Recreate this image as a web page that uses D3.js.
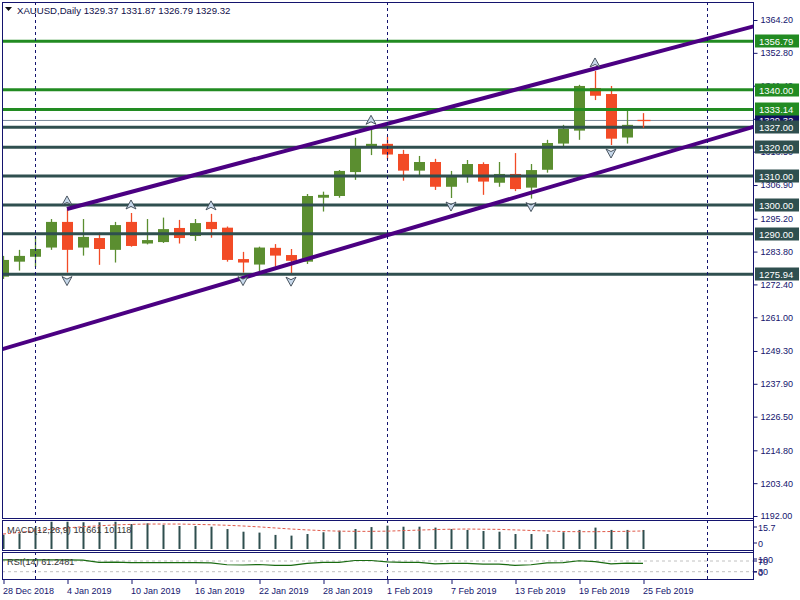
<!DOCTYPE html>
<html><head><meta charset="utf-8">
<script src="https://cdn.jsdelivr.net/npm/d3@7"></script>
<style>
body{margin:0;background:#fff}
svg{display:block}
text{font-family:"Liberation Sans",Arial,sans-serif}
</style>
</head><body>
<svg id="c" width="800" height="600"></svg>
<script>
// ---------------- DATA ----------------
const symbol = "XAUUSD", timeframe = "Daily";
const dates = ["28 Dec 2018","31 Dec 2018","2 Jan 2019","3 Jan 2019","4 Jan 2019","7 Jan 2019","8 Jan 2019","9 Jan 2019","10 Jan 2019","11 Jan 2019","14 Jan 2019","15 Jan 2019","16 Jan 2019","17 Jan 2019","18 Jan 2019","21 Jan 2019","22 Jan 2019","23 Jan 2019","24 Jan 2019","25 Jan 2019","28 Jan 2019","29 Jan 2019","30 Jan 2019","31 Jan 2019","1 Feb 2019","4 Feb 2019","5 Feb 2019","6 Feb 2019","7 Feb 2019","8 Feb 2019","11 Feb 2019","12 Feb 2019","13 Feb 2019","14 Feb 2019","15 Feb 2019","18 Feb 2019","19 Feb 2019","20 Feb 2019","21 Feb 2019","22 Feb 2019","25 Feb 2019"];
const open  = [1275.1,1280.3,1282.0,1285.2,1294.1,1285.2,1288.5,1284.4,1294.1,1286.6,1287.1,1292.0,1289.2,1294.1,1292.1,1281.2,1279.3,1285.1,1282.6,1280.3,1302.5,1303.1,1311.4,1320.2,1321.2,1317.7,1311.9,1314.9,1306.3,1310.1,1314.2,1307.7,1310.75,1306.0,1312.2,1321.3,1325.8,1340.6,1338.5,1323.4,1329.37];
const high  = [1282.3,1284.4,1289.0,1295.1,1298.6,1295.1,1290.4,1294.1,1297.2,1295.1,1295.6,1294.8,1295.1,1296.9,1292.5,1283.7,1285.5,1286.4,1284.7,1303.8,1304.6,1312.1,1323.3,1326.6,1323.7,1319.1,1317.0,1316.0,1311.8,1315.6,1314.8,1314.9,1318.0,1314.2,1322.6,1327.8,1341.7,1346.5,1341.3,1332.7,1331.87];
const low   = [1274.3,1277.2,1278.4,1284.4,1276.5,1282.4,1279.2,1280.0,1285.5,1286.3,1286.8,1286.6,1287.5,1288.6,1280.3,1276.5,1276.8,1278.6,1276.3,1279.5,1297.7,1302.5,1308.7,1317.3,1315.9,1308.4,1310.4,1305.2,1302.4,1307.7,1303.5,1306.3,1304.8,1302.2,1311.2,1320.2,1322.6,1336.4,1320.8,1321.3,1326.79];
const close = [1280.9,1282.3,1284.7,1294.1,1284.4,1288.9,1284.7,1293.0,1285.75,1287.8,1291.6,1288.5,1293.7,1291.6,1280.9,1280.0,1285.2,1282.4,1280.6,1303.1,1303.5,1311.8,1319.8,1321.2,1317.5,1311.9,1314.9,1306.3,1310.1,1314.2,1308.1,1310.75,1305.5,1312.1,1321.5,1326.4,1341.3,1337.9,1323.0,1327.8,1329.32];

const macdMain   = [8.0,8.8,12.0,15.3,15.3,15.0,15.0,15.3,14.0,14.4,13.5,12.9,12.9,12.5,11.2,9.7,9.2,7.9,7.5,8.4,9.4,10.3,11.2,12.3,13.1,12.5,12.5,12.0,11.2,10.7,10.1,9.7,8.4,8.4,8.4,9.4,10.7,12.0,10.7,10.7,10.661];
const macdSignal = [8.4,9.3,10.2,11.0,11.8,12.5,13.0,13.5,13.8,14.0,14.0,14.0,13.8,13.6,13.3,12.9,12.4,11.8,11.2,10.7,10.3,10.0,9.9,9.9,10.0,10.3,10.6,10.9,11.1,11.2,11.1,11.0,10.7,10.4,10.1,9.8,9.7,9.7,9.8,9.9,10.118];
const rsi = [74,74,74,74,74,73,65,66,64,64,64,64,64,63,56,55,57,54,54,61,65,65,72,72,67,65,65,59,61,61,58,58,54,56,63,64,71,68,59,62,61.2481];

const greenLevels = [1356.79, 1340.00, 1333.14];
const slateLevels = [1327.00, 1320.00, 1310.00, 1300.00, 1290.00, 1275.94];
const currentPrice = 1329.32;

// trend lines: [barIndex, price] anchor pairs
const upperTrend = [[4, 1298.6], [40, 1351.8]];
const lowerTrend = [[0, 1250.0], [40, 1315.75]];

const fractalUp = [4, 8, 13, 23, 37];
const fractalDown = [4, 15, 18, 28, 33, 38];

const priceTicks = [1364.20,1352.80,1341.40,1329.90,1318.50,1306.90,1295.20,1283.80,1272.40,1261.00,1249.30,1237.90,1226.50,1214.80,1203.40,1192.00];
const macdTicks = [15.7, 0];
const rsiTicks = [100, 70, 30, 0];
const rsiLevels = [70, 30];
const dateTickIdx = [0,4,8,12,16,20,24,28,32,36,40];
const periodSeparators = [2, 24, 44]; // first bar of Jan, Feb, Mar

// ---------------- LAYOUT ----------------
const svg = d3.select("#c");
const L = 2, R = 753;
const main = {top: 2, bottom: 518};
const macdP = {top: 520, bottom: 550};
const rsiP = {top: 552, bottom: 579};
const navy = "#14146e";
const bull = "#5b8e30", bear = "#f24b26";
const slate = "#2f4f4f", forest = "#228b22", indigo = "#4b0082";

const x = d3.scaleLinear().domain([0, 40]).range([3, 643]);
const y = d3.scaleLinear().domain([1192, 1364.2]).range([516, 20]);
const ym = d3.scaleLinear().domain([0, 15.7]).range([549, 521]);
const yr = d3.scaleLinear().domain([0, 100]).range([579.7, 553]);

svg.append("rect").attr("width",800).attr("height",600).attr("fill","#fff");

const defs = svg.append("defs");
defs.append("clipPath").attr("id","clipMain").append("rect").attr("x",L).attr("y",main.top).attr("width",R-L).attr("height",main.bottom-main.top);
defs.append("clipPath").attr("id","clipMacd").append("rect").attr("x",L).attr("y",macdP.top).attr("width",R-L).attr("height",macdP.bottom-macdP.top);
defs.append("clipPath").attr("id","clipRsi").append("rect").attr("x",L).attr("y",rsiP.top).attr("width",R-L).attr("height",rsiP.bottom-rsiP.top);

const gMain = svg.append("g").attr("clip-path","url(#clipMain)");

// period separators (all panels)
periodSeparators.forEach(i => {
  [[main.top, main.bottom],[macdP.top, macdP.bottom],[rsiP.top, rsiP.bottom]].forEach(([a,b]) => {
    svg.append("line").attr("x1",x(i)+0.5).attr("x2",x(i)+0.5).attr("y1",a).attr("y2",b)
      .attr("stroke",navy).attr("stroke-dasharray","3,3").attr("stroke-width",1);
  });
});

// current price line
gMain.append("line").attr("x1",L).attr("x2",R).attr("y1",y(currentPrice)).attr("y2",y(currentPrice)).attr("stroke","#7a8a9a").attr("stroke-width",1);

// candles
const candles = gMain.append("g");
const lastIdx = dates.length - 1;
d3.range(lastIdx).forEach(i => {
  const up = close[i] >= open[i];
  const col = up ? bull : bear;
  const cx = Math.round(x(i)) + 0.5;
  candles.append("line").attr("x1",cx).attr("x2",cx).attr("y1",y(high[i])).attr("y2",y(low[i])).attr("stroke",col).attr("stroke-width",1.3);
  const top = y(Math.max(open[i],close[i])), bot = y(Math.min(open[i],close[i]));
  candles.append("rect").attr("x",cx-5.5).attr("width",11).attr("y",top).attr("height",Math.max(2,bot-top)).attr("fill",col);
});

// horizontal levels
greenLevels.forEach(v => gMain.append("line").attr("x1",L).attr("x2",R).attr("y1",y(v)).attr("y2",y(v)).attr("stroke",forest).attr("stroke-width",3));
slateLevels.forEach(v => gMain.append("line").attr("x1",L).attr("x2",R).attr("y1",y(v)).attr("y2",y(v)).attr("stroke",slate).attr("stroke-width",3));

// current (forming) bar: near-doji cross
{
  const i = lastIdx, cx = Math.round(x(i)) + 0.5, cy = Math.round(y(close[i])) + 0.5;
  gMain.append("line").attr("x1",cx).attr("x2",cx).attr("y1",y(high[i])).attr("y2",y(low[i])).attr("stroke",bear).attr("stroke-width",1.3);
  gMain.append("line").attr("x1",cx-6).attr("x2",cx+7).attr("y1",cy).attr("y2",cy).attr("stroke",bear).attr("stroke-width",1.3);
}

// trend lines
function trend(anchors, extendLeft) {
  const [[i0,p0],[i1,p1]] = anchors;
  const slope = (p1-p0)/(i1-i0);
  const iStart = extendLeft ? -5 : i0;
  const iEnd = 60;
  gMain.append("line")
    .attr("x1",x(iStart)).attr("y1",y(p0 + slope*(iStart-i0)))
    .attr("x2",x(iEnd)).attr("y2",y(p0 + slope*(iEnd-i0)))
    .attr("stroke",indigo).attr("stroke-width",4);
}
trend(upperTrend, false);
trend(lowerTrend, true);

// fractals
const frUp = "M0,-5 L5,4 L0,1.5 L-5,4 Z";
fractalUp.forEach(i => {
  gMain.append("path").attr("d",frUp).attr("transform",`translate(${x(i)},${y(high[i])-8})`)
    .attr("fill","#c7d8ea").attr("stroke","#3a4550").attr("stroke-width",0.9);
});
fractalDown.forEach(i => {
  gMain.append("path").attr("d",frUp).attr("transform",`translate(${x(i)},${y(low[i])+8}) scale(1,-1)`)
    .attr("fill","#c7d8ea").attr("stroke","#3a4550").attr("stroke-width",0.9);
});

// MACD panel
const gM = svg.append("g").attr("clip-path","url(#clipMacd)");
macdMain.forEach((v,i) => {
  gM.append("rect").attr("x",Math.round(x(i))-0.5).attr("width",2).attr("y",ym(v)).attr("height",ym(0)-ym(v)).attr("fill",slate);
});
gM.append("path").datum(macdSignal)
  .attr("d", d3.line().x((d,i)=>x(i)).y(d=>ym(d)))
  .attr("fill","none").attr("stroke","#e05a4a").attr("stroke-width",1).attr("stroke-dasharray","3,2");

// RSI panel
const gR = svg.append("g").attr("clip-path","url(#clipRsi)");
rsiLevels.forEach(v => gR.append("line").attr("x1",L).attr("x2",R).attr("y1",yr(v)).attr("y2",yr(v))
  .attr("stroke","#c0c0c0").attr("stroke-dasharray","3,3"));
gR.append("path").datum(rsi)
  .attr("d", d3.line().x((d,i)=>x(i)).y(d=>yr(d)))
  .attr("fill","none").attr("stroke","#1a6b12").attr("stroke-width",1.2);

// panel borders
[[main.top,main.bottom],[macdP.top,macdP.bottom],[rsiP.top,rsiP.bottom]].forEach(([a,b]) => {
  svg.append("rect").attr("x",L+0.5).attr("y",a+0.5).attr("width",R-L).attr("height",b-a)
    .attr("fill","none").attr("stroke",navy).attr("stroke-width",1);
});

// right price axis
const axisY = d3.axisRight(y).tickValues(priceTicks).tickFormat(d3.format(".2f")).tickSize(4).tickPadding(3);
const gA = svg.append("g").attr("transform",`translate(${R+0.5},0)`).call(axisY);
gA.select(".domain").remove();
gA.selectAll("line").attr("stroke",navy);
gA.selectAll("text").attr("fill",navy).attr("font-size",9).attr("font-family","Liberation Sans, Arial");
svg.append("line").attr("x1",R+0.5).attr("x2",R+0.5).attr("y1",main.top).attr("y2",rsiP.bottom+1).attr("stroke",navy);

// level labels on axis
function tag(v, fill, txt) {
  const g = svg.append("g").attr("transform",`translate(${R+2},${Math.round(y(v))})`);
  g.append("rect").attr("x",0).attr("y",-6.5).attr("width",44).attr("height",13).attr("fill",fill);
  g.append("text").attr("x",4).attr("y",3.5).attr("fill","#fff").attr("font-size",9.5).text(txt);
}
tag(currentPrice, "#101060", d3.format(".2f")(currentPrice));
greenLevels.forEach(v => tag(v, forest, d3.format(".2f")(v)));
slateLevels.forEach(v => tag(v, slate, d3.format(".2f")(v)));

// MACD / RSI axis labels
function sideLabel(val, yy, txt) {
  svg.append("line").attr("x1",R).attr("x2",R+4).attr("y1",yy).attr("y2",yy).attr("stroke",navy);
  svg.append("text").attr("x",R+5).attr("y",yy+3.5).attr("fill",navy).attr("font-size",9).text(txt);
}
macdTicks.forEach(v => sideLabel(v, Math.max(macdP.top+7, Math.min(macdP.bottom-7, ym(v))), String(v)));
rsiTicks.forEach(v => sideLabel(v, Math.max(rsiP.top+7, Math.min(rsiP.bottom-7, yr(v))), String(v)));

// date axis
const axisX = d3.axisBottom(x).tickValues(dateTickIdx).tickFormat(i => dates[i]).tickSize(4).tickPadding(2);
const gX = svg.append("g").attr("transform",`translate(0.5,${rsiP.bottom+1})`).call(axisX);
gX.select(".domain").remove();
gX.selectAll("line").attr("stroke",navy);
gX.selectAll("text").attr("fill",navy).attr("font-size",9).attr("text-anchor","start").attr("dx",-1).attr("dy","0.9em");

// headers
svg.append("path").attr("d","M5,7 L12,7 L8.5,11 Z").attr("fill","#111");
svg.append("text").attr("x",17).attr("y",14).attr("font-size",9.6).attr("fill","#10104a")
  .text(`${symbol},${timeframe}  ${open[lastIdx].toFixed(2)} ${high[lastIdx].toFixed(2)} ${low[lastIdx].toFixed(2)} ${close[lastIdx].toFixed(2)}`);
svg.append("text").attr("x",7).attr("y",533).attr("font-size",9.2).attr("fill","#333")
  .text(`MACD(12,26,9) ${macdMain[lastIdx].toFixed(3)} ${macdSignal[lastIdx].toFixed(3)}`);
svg.append("text").attr("x",7).attr("y",565).attr("font-size",9.2).attr("fill","#333")
  .text(`RSI(14) ${rsi[lastIdx].toFixed(4)}`);
</script>
</body></html>
